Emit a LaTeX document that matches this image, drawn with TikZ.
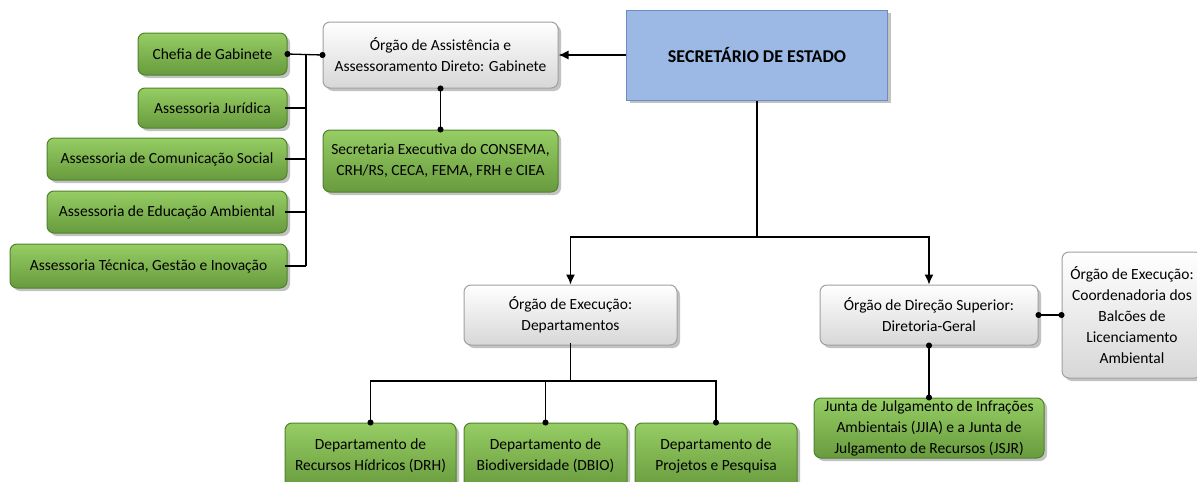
\documentclass[tikz,border=0pt]{standalone}
\usepackage{fontspec}
\setmainfont{Carlito}
\usetikzlibrary{arrows.meta,shadows}
\definecolor{verde}{RGB}{122,182,72}
\definecolor{verdeClaro}{RGB}{150,205,100}
\definecolor{verdeEsc}{RGB}{80,130,45}
\definecolor{cinza}{RGB}{215,215,215}
\definecolor{cinzaEsc}{RGB}{160,160,160}
\definecolor{azul}{RGB}{155,185,228}
\definecolor{azulEsc}{RGB}{110,140,190}
\tikzset{box/.style={rounded corners=7, draw, line width=1pt, align=center, inner sep=2pt, font=\fontsize{15.5}{21}\selectfont, drop shadow={shadow xshift=3pt, shadow yshift=-3pt, opacity=0.4, fill=black!60}}}
\tikzset{gbox/.style={box, draw=verdeEsc, top color=verdeClaro, bottom color=verde!85!black}}
\tikzset{cbox/.style={box, draw=cinzaEsc, top color=white, bottom color=cinza}}
\tikzset{tbox/.style={box, sharp corners, fill=azul, draw=azulEsc, font=\fontsize{18}{22}\selectfont\bfseries}}
\tikzset{lig/.style={draw, line width=1.3pt, shorten <=-3pt, shorten >=-3pt, {Circle[length=6pt]}-{Circle[length=6pt]}}}
\tikzset{arr/.style={draw, line width=1.3pt, -{Latex[length=10pt,width=9pt]}}}
\begin{document}
\begin{tikzpicture}[x=1pt,y=-1pt]
		\useasboundingbox (0,0) rectangle (1197,482);
		\node[tbox, minimum width=261pt, minimum height=90pt] (sec) at (757,55){SECRETÁRIO DE ESTADO};
		\node[cbox, minimum width=235pt, minimum height=66pt] (gab) at (440.5,55){Órgão de Assistência e\\Assessoramento Direto: Gabinete};
		\node[gbox, minimum width=235pt, minimum height=62pt] (secex) at (440.5,161){Secretaria Executiva do CONSEMA,\\CRH/RS, CECA, FEMA, FRH e CIEA};
		
		% assessorias
		\node[gbox, minimum width=149pt, minimum height=42pt] (chefia) at (212.5,54){Chefia de Gabinete};
		\node[gbox, minimum width=149pt, minimum height=40pt] (jur) at (212.5,108){Assessoria Jurídica};
		\node[gbox, minimum width=240pt, minimum height=42pt] (com) at (167,159){Assessoria de Comunicação Social};
		\node[gbox, minimum width=240pt, minimum height=42pt] (edu) at (167,212){Assessoria de Educação Ambiental};
		\node[gbox, minimum width=277pt, minimum height=44pt] (tec) at (148.5,266){Assessoria Técnica, Gestão e Inovação};
		\coordinate (bus) at (306,55);
		
		\node[cbox, minimum width=213pt, minimum height=60pt] (dep) at (570.5,315){Órgão de Execução:\\Departamentos};
		\node[cbox, minimum width=218pt, minimum height=60pt] (dir) at (929,315){Órgão de Direção Superior:\\Diretoria-Geral};
		\node[cbox, minimum width=140pt, minimum height=126pt] (coord) at (1132,315){Órgão de Execução:\\Coordenadoria dos\\Balcões de\\Licenciamento\\Ambiental};
		\node[gbox, minimum width=230pt, minimum height=60pt] (junta) at (929,428){Junta de Julgamento de Infrações\\Ambientais (JJIA) e a Junta de\\Julgamento de Recursos (JSJR)};
		
		\node[gbox, minimum width=171pt, minimum height=66pt] (drh) at (370.5,456){Departamento de\\Recursos Hídricos (DRH)};
		\node[gbox, minimum width=163pt, minimum height=66pt] (dbio) at (545.5,456){Departamento de\\Biodiversidade (DBIO)};
		\node[gbox, minimum width=162pt, minimum height=66pt] (proj) at (716,456){Departamento de\\Projetos e Pesquisa};
		
		\draw[arr] (sec.west) -- (gab.east);
		\draw[lig] (gab.south) -- (secex.north);
		\draw[lig] (chefia.east) -- (gab.west);
		\draw[line width=1.3pt] (bus) -- (tec.east -| bus);
		\foreach \n in {jur,com,edu,tec}
			\draw[lig, shorten >=0pt, -] (\n.east) -- (\n.east -| bus);
		
		\coordinate (fork) at (757,237);
		\draw[line width=1.3pt] (sec.south) -- (fork);
		\draw[arr] (fork) -| (dep.north);
		\draw[arr] (fork) -| (dir.north);
		\draw[lig] (dir.east) -- (coord.west);
		\draw[lig] (dir.south) -- (junta.north);
		
		\coordinate (ramo) at (570.5,381);
		\draw[lig, shorten >=0pt, -] (dep.south) -- (ramo);
		\foreach \n in {drh,dbio,proj}
			\draw[lig, shorten <=0pt, {Circle[length=0pt]}-{Circle[length=6pt]}] (ramo) -| (\n.north);
	\end{tikzpicture}
\end{document}
